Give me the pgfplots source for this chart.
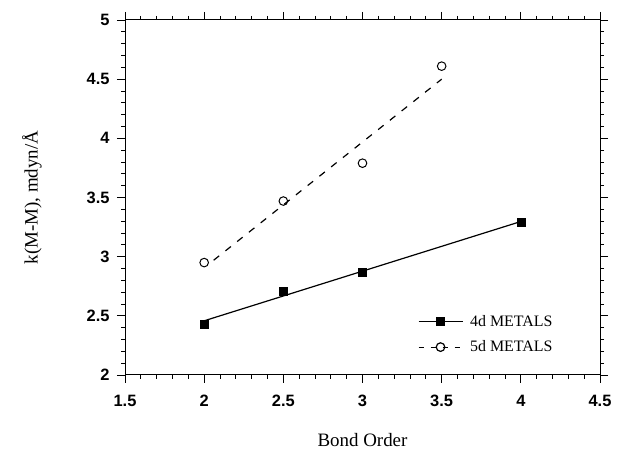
\documentclass[border=0pt]{standalone}
\usepackage{fontspec}
\setmainfont{Liberation Serif}
\newfontfamily\hel{Liberation Sans}
\usepackage{pgfplots}
\pgfplotsset{compat=1.18}

\begin{document}
\begin{tikzpicture}
\begin{axis}[
scale only axis,
width=475bp, height=355bp,
xmin=1.5, xmax=4.5, ymin=2, ymax=5,
xtick={1.5,2,...,4.5}, ytick={2,2.5,...,5},
minor tick num=4,
tick align=outside,
major tick length=8bp, minor tick length=4bp,
axis line style={line width=1bp},
every tick/.style={black, line width=0.8bp},
/pgf/number format/assume math mode=true,
ticklabel style={font=\hel\bfseries\fontsize{16.5}{19}\selectfont},
xticklabel style={yshift=-9bp},
yticklabel style={xshift=-4bp},
xlabel={Bond Order},
ylabel={k(M-M), mdyn/Å},
label style={font=\fontsize{19}{22}\selectfont},
xlabel style={at={(axis description cs:0.5,0)}, anchor=center, yshift=-65bp},
ylabel style={at={(axis description cs:0,0.5)}, anchor=center, yshift=93bp},
legend style={at={(0.61,0.18)}, anchor=north west, draw=none, fill=none,
  font=\fontsize{16}{18}\selectfont, row sep=9bp,
  /tikz/every odd column/.append style={column sep=5bp}},
legend cell align=left,
legend image code/.code={\draw[mark repeat=2,mark phase=2] plot coordinates {(0bp,0bp)(22bp,0bp)(44bp,0bp)};},
]
\addplot[black, line width=1.2bp, mark=square*, mark size=4bp] coordinates {(0,0)};
\addlegendentry{4d METALS}
\addplot[black, line width=1.2bp, dash pattern=on 5bp off 7bp, mark=o, mark size=4.3bp, mark options={solid}] coordinates {(0,0)};
\addlegendentry{5d METALS}

% 4d metals: fit line and points
\addplot[black, line width=1.2bp, forget plot] coordinates {(2,2.458) (4,3.297)};
\addplot[black, only marks, mark=square*, mark size=4bp, forget plot]
  coordinates {(2,2.43) (2.5,2.71) (3,2.87) (4,3.29)};

% 5d metals: fit line and points
\addplot[black, line width=1.2bp, dash pattern=on 7bp off 8bp, forget plot] coordinates {(2.06,2.97) (3.5,4.50)};
\addplot[black, line width=1bp, only marks, mark=o, mark size=4.3bp, forget plot]
  coordinates {(2,2.95) (2.5,3.47) (3,3.79) (3.5,4.61)};
\end{axis}
\path ([shift={(-125bp,-81bp)}]current axis.south west) rectangle ([shift={(35bp,20bp)}]current axis.north east);
\end{tikzpicture}
\end{document}
